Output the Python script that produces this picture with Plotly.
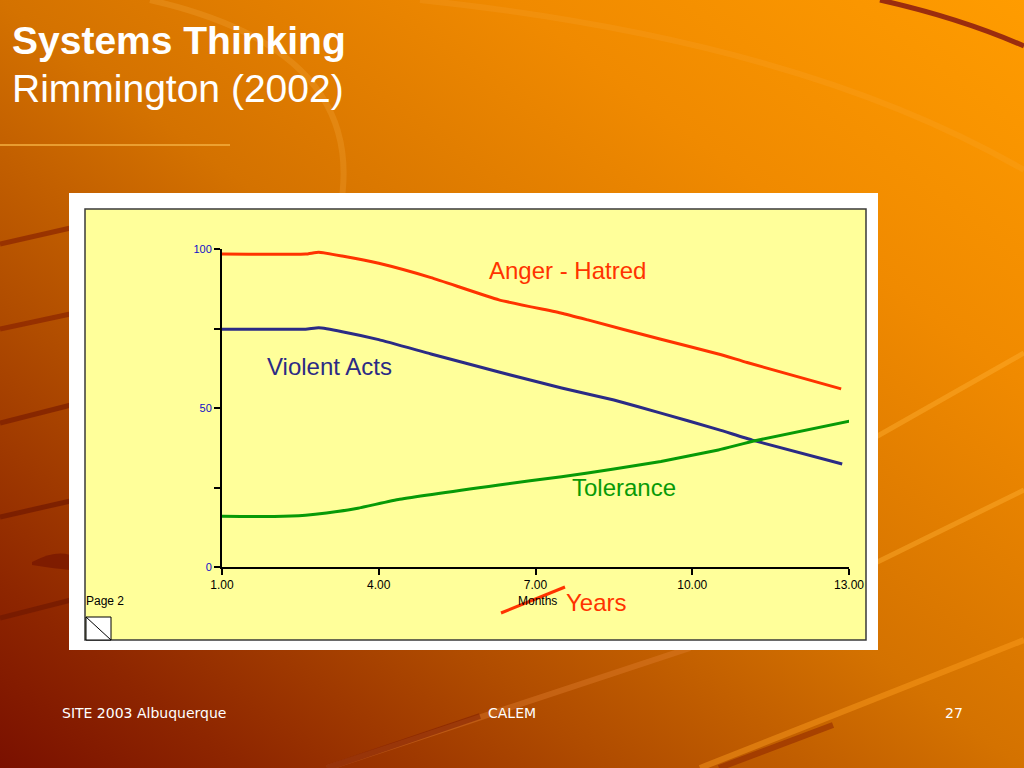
import base64
import plotly.graph_objects as go

W, H = 1024, 768


def px(x):
    return x / W


def py(y):
    return 1 - y / H


# ---------------- data ----------------
anger_x = [1.0, 2.6, 2.85, 3.3, 4.0, 5.0, 6.3, 7.5, 8.0, 9.4, 10.5, 11.05, 12.85]
anger_y = [98.4, 98.4, 99.0, 97.8, 95.5, 91.0, 84.0, 79.8, 77.7, 71.6, 67.0, 64.3, 56.0]

violent_x = [1.0, 2.6, 2.85, 3.3, 4.0, 5.0, 6.3, 7.5, 8.5, 9.4, 10.5, 11.15, 12.87]
violent_y = [74.8, 74.8, 75.2, 74.0, 71.5, 67.0, 61.3, 56.3, 52.5, 48.4, 43.2, 39.9, 32.4]

tolerance_x = [0.96, 2.0, 2.6, 3.0, 3.6, 4.4, 6.3, 7.5, 8.5, 9.4, 10.5, 11.2, 13.1]
tolerance_y = [16.0, 15.9, 16.3, 17.0, 18.5, 21.3, 25.8, 28.4, 30.8, 33.2, 36.8, 39.7, 46.2]

x_ticks = [1, 4, 7, 10, 13]
x_tick_labels = ["1.00", "4.00", "7.00", "10.00", "13.00"]
y_ticks = [0, 25, 50, 75, 100]
y_tick_labels = ["0", "", "50", "", "100"]

ANGER = "#FF3300"
VIOLENT = "#2B2B85"
TOLER = "#079A07"

# ---------------- background (decorative svg) ----------------
svg = """<svg xmlns='http://www.w3.org/2000/svg' width='1024' height='768' viewBox='0 0 1024 768' preserveAspectRatio='none'>
<defs><linearGradient id='g' x1='0' y1='1' x2='1' y2='0'>
<stop offset='0' stop-color='#7A1000'/>
<stop offset='0.12' stop-color='#8E2600'/>
<stop offset='0.3' stop-color='#B04C00'/>
<stop offset='0.5' stop-color='#D47200'/>
<stop offset='0.75' stop-color='#F08A00'/>
<stop offset='1' stop-color='#FF9C00'/>
</linearGradient></defs>
<rect width='1024' height='768' fill='url(#g)'/>
<path d='M 150 0 Q 370 50 340 210' fill='none' stroke='#FFC060' stroke-opacity='0.18' stroke-width='6'/>
<path d='M 420 0 Q 800 40 1024 170' fill='none' stroke='#FFC060' stroke-opacity='0.12' stroke-width='6'/>
<path d='M 880 0 Q 960 18 1024 46' fill='none' stroke='#8A1A10' stroke-opacity='0.85' stroke-width='5'/>
<path d='M 800 480 L 1024 353' fill='none' stroke='#FFB030' stroke-opacity='0.45' stroke-width='5'/>
<path d='M 800 600 L 1024 490' fill='none' stroke='#FFB030' stroke-opacity='0.45' stroke-width='5'/>
<path d='M 700 768 L 1024 640' fill='none' stroke='#FFA020' stroke-opacity='0.45' stroke-width='6'/>
<path d='M 719 768 L 833 725' fill='none' stroke='#8A2000' stroke-opacity='0.5' stroke-width='6'/>
<path d='M 327 768 L 690 648' fill='none' stroke='#E08030' stroke-opacity='0.4' stroke-width='6'/>
<path d='M 327 768 L 480 716' fill='none' stroke='#7A1800' stroke-opacity='0.5' stroke-width='6'/>
<path d='M 0 244 L 75 227' fill='none' stroke='#8A2400' stroke-opacity='0.7' stroke-width='5'/>
<path d='M 0 329 L 75 313' fill='none' stroke='#8A2400' stroke-opacity='0.7' stroke-width='5'/>
<path d='M 0 423 L 75 404' fill='none' stroke='#7A1C00' stroke-opacity='0.7' stroke-width='5'/>
<path d='M 0 517 L 75 500' fill='none' stroke='#701800' stroke-opacity='0.7' stroke-width='5'/>
<path d='M 0 618 L 75 599' fill='none' stroke='#701800' stroke-opacity='0.7' stroke-width='5'/>
<path d='M 32 562 Q 55 550 70 555 L 70 570 Q 50 568 32 565 Z' fill='#701000' fill-opacity='0.6'/>
</svg>"""
bg_src = "data:image/svg+xml;base64," + base64.b64encode(svg.encode()).decode()

fig = go.Figure()

fig.add_trace(go.Scatter(x=anger_x, y=anger_y, mode="lines", cliponaxis=False,
                         line=dict(color=ANGER, width=3, shape="spline", smoothing=0.4),
                         name="Anger - Hatred", hoverinfo="skip"))
fig.add_trace(go.Scatter(x=violent_x, y=violent_y, mode="lines", cliponaxis=False,
                         line=dict(color=VIOLENT, width=3, shape="spline", smoothing=0.4),
                         name="Violent Acts", hoverinfo="skip"))
fig.add_trace(go.Scatter(x=tolerance_x, y=tolerance_y, mode="lines", cliponaxis=False,
                         line=dict(color=TOLER, width=3, shape="spline", smoothing=0.4),
                         name="Tolerance", hoverinfo="skip"))

shapes = [
    # white frame
    dict(type="rect", xref="paper", yref="paper", x0=px(69), x1=px(878), y0=py(650), y1=py(193),
         fillcolor="white", line=dict(width=0), layer="below"),
    # yellow panel
    dict(type="rect", xref="paper", yref="paper", x0=px(85), x1=px(866), y0=py(640), y1=py(209),
         fillcolor="#FFFF9A", line=dict(color="#3A3A3A", width=1.5), layer="below"),
    # page icon
    dict(type="rect", xref="paper", yref="paper", x0=px(86), x1=px(111), y0=py(640), y1=py(617),
         fillcolor="white", line=dict(color="black", width=1), layer="below"),
    dict(type="line", xref="paper", yref="paper", x0=px(86), x1=px(111), y0=py(617), y1=py(640),
         line=dict(color="black", width=1), layer="below"),
    # title rule
    dict(type="line", xref="paper", yref="paper", x0=0, x1=px(230), y0=py(145), y1=py(145),
         line=dict(color="#F4B040", width=1.5)),
    # strike through "Months"
    dict(type="line", xref="paper", yref="paper", x0=px(501), x1=px(565), y0=py(613), y1=py(587),
         line=dict(color=ANGER, width=3)),
]


def ann(text, x, y, size, color, family="Liberation Sans", xanchor="left", yanchor="middle"):
    return dict(text=text, x=px(x), y=py(y), xref="paper", yref="paper", showarrow=False,
                xanchor=xanchor, yanchor=yanchor, font=dict(family=family, size=size, color=color))


annotations = [
    ann("<b>Systems Thinking</b>", 10, 40, 39, "white"),
    ann("Rimmington (2002)", 10, 88, 39, "white"),
    ann("Anger - Hatred", 487, 271, 24, ANGER),
    ann("Violent Acts", 265, 366, 24, VIOLENT),
    ann("Tolerance", 570, 487, 24, TOLER),
    ann("Years", 564, 602, 24, ANGER),
    ann("Months", 537, 601, 12, "black", xanchor="center"),
    ann("Page 2", 84, 601, 12, "black"),
    ann("SITE 2003 Albuquerque", 60, 713, 14, "white", family="DejaVu Sans"),
    ann("CALEM", 512, 713, 14, "white", family="DejaVu Sans", xanchor="center"),
    ann("27", 954, 713, 14, "white", family="DejaVu Sans", xanchor="center"),
]

fig.update_layout(
    template="none",
    width=W, height=H, margin=dict(l=0, r=0, t=0, b=0, pad=0, autoexpand=False),
    paper_bgcolor="#D47200", plot_bgcolor="rgba(0,0,0,0)", showlegend=False,
    images=[dict(source=bg_src, xref="paper", yref="paper", x=0, y=1, sizex=1, sizey=1,
                 xanchor="left", yanchor="top", sizing="stretch", layer="below")],
    shapes=shapes, annotations=annotations,
    xaxis=dict(domain=[px(222), px(849)], range=[1, 13], showline=True, linecolor="black",
               linewidth=2, ticks="outside", ticklen=6, tickwidth=2, tickcolor="black",
               tickvals=x_ticks, ticktext=x_tick_labels, showgrid=False, zeroline=False,
               automargin=False,
               tickfont=dict(family="Liberation Sans", size=12, color="black"), fixedrange=True),
    yaxis=dict(domain=[py(567), py(249)], range=[0, 100], showline=True, linecolor="black",
               linewidth=2, ticks="outside", ticklen=6, tickwidth=2, tickcolor="black",
               tickvals=y_ticks, ticktext=y_tick_labels, showgrid=False, zeroline=False,
               automargin=False,
               tickfont=dict(family="Liberation Sans", size=11, color="#1010C8"), fixedrange=True),
)

fig.write_html("out.html", config={"displayModeBar": False},
               post_script="document.body.style.margin='0';document.body.style.overflow='hidden';")
